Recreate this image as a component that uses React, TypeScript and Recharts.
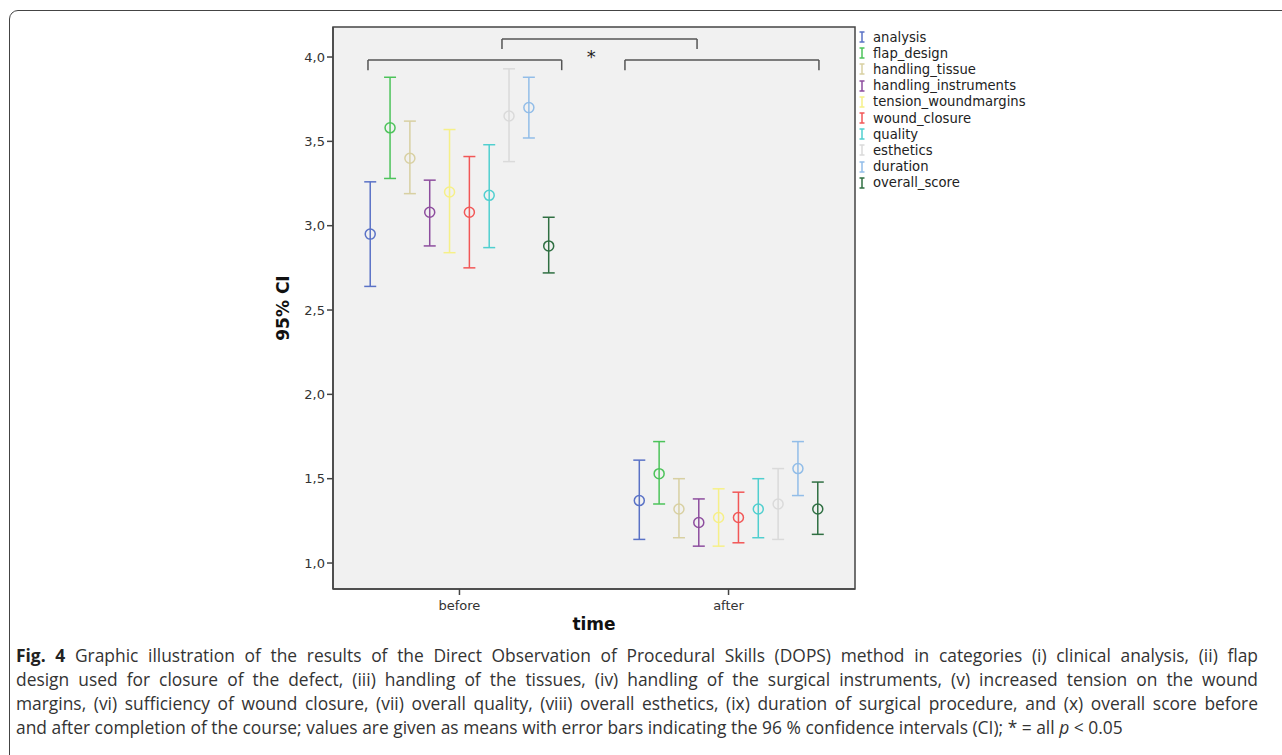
import React from "react";
import {
  ComposedChart,
  Scatter,
  ErrorBar,
  XAxis,
  YAxis,
  ReferenceArea,
  ReferenceLine,
  ReferenceDot
} from "recharts";

const groups = ["before", "after"];

const categories = [
  "analysis",
  "flap_design",
  "handling_tissue",
  "handling_instruments",
  "tension_woundmargins",
  "wound_closure",
  "quality",
  "esthetics",
  "duration",
  "overall_score"
];

const colors = [
  "#5a72c6",
  "#4cc35a",
  "#d8d0a2",
  "#8d4d9e",
  "#f6f088",
  "#f25757",
  "#50cfcf",
  "#dadada",
  "#92bde8",
  "#2f6f42"
];

const meanBefore = [2.95, 3.58, 3.4, 3.08, 3.2, 3.08, 3.18, 3.65, 3.7, 2.88];
const lowBefore = [2.64, 3.28, 3.19, 2.88, 2.84, 2.75, 2.87, 3.38, 3.52, 2.72];
const highBefore = [3.26, 3.88, 3.62, 3.27, 3.57, 3.41, 3.48, 3.93, 3.88, 3.05];

const meanAfter = [1.37, 1.53, 1.32, 1.24, 1.27, 1.27, 1.32, 1.35, 1.56, 1.32];
const lowAfter = [1.14, 1.35, 1.15, 1.1, 1.1, 1.12, 1.15, 1.14, 1.4, 1.17];
const highAfter = [1.61, 1.72, 1.5, 1.38, 1.44, 1.42, 1.5, 1.56, 1.72, 1.48];

const yTicks = [1, 1.5, 2, 2.5, 3, 3.5, 4];

// significance brackets (data units)
const brackets = [
  { from: -0.34, to: 0.38, y: 3.982, drop: 0.06 },
  { from: 0.615, to: 1.336, y: 3.982, drop: 0.06 },
  { from: 0.158, to: 0.883, y: 4.107, drop: 0.06 }
];

const captionLines = [
  "Graphic illustration of the results of the Direct Observation of Procedural Skills (DOPS) method in categories (i) clinical analysis, (ii) flap",
  "design used for closure of the defect, (iii) handling of the tissues, (iv) handling of the surgical instruments, (v) increased tension on the wound",
  "margins, (vi) sufficiency of wound closure, (vii) overall quality, (viii) overall esthetics, (ix) duration of surgical procedure, and (x) overall score before"
];

const X_MIN = -0.47;
const X_MAX = 1.47;
const STEP = 0.0737;

const font = "'DejaVu Sans', sans-serif";

function seriesData(i: number) {
  const means = [meanBefore[i], meanAfter[i]];
  const lows = [lowBefore[i], lowAfter[i]];
  const highs = [highBefore[i], highAfter[i]];
  return groups.map((g, gi) => ({
    x: gi + (i - 4.5) * STEP,
    y: means[gi],
    err: [means[gi] - lows[gi], highs[gi] - means[gi]]
  }));
}

function ErrIcon({ color }: { color: string }) {
  return (
    <svg width={8} height={12} style={{ marginRight: 7, flex: "none" }}>
      <line x1={4} y1={1} x2={4} y2={11} stroke={color} strokeWidth={1.5} />
      <line x1={1.5} y1={1} x2={6.5} y2={1} stroke={color} strokeWidth={1.5} />
      <line x1={1.5} y1={11} x2={6.5} y2={11} stroke={color} strokeWidth={1.5} />
    </svg>
  );
}

const justified: React.CSSProperties = {
  width: 1242,
  textAlign: "justify",
  textAlignLast: "justify",
  whiteSpace: "normal"
};

export default function App() {
  return (
    <div
      style={{
        position: "absolute",
        left: 0,
        top: 0,
        width: 1282,
        height: 755,
        overflow: "hidden",
        background: "#fff"
      }}
    >
      <div
        style={{
          position: "absolute",
          left: 9,
          top: 10,
          width: 1320,
          height: 800,
          border: "1.5px solid #444",
          borderRadius: 9
        }}
      />
      <div style={{ position: "absolute", left: 0, top: 0 }}>
        <ComposedChart
          width={1282}
          height={640}
          margin={{ top: 27, right: 427, bottom: 1, left: 273 }}
        >
          <XAxis
            type="number"
            dataKey="x"
            domain={[X_MIN, X_MAX]}
            ticks={[0, 1]}
            tickFormatter={(v) => groups[Number(v)]}
            allowDataOverflow
            axisLine={{ stroke: "#444", strokeWidth: 1.5 }}
            tickLine={{ stroke: "#444", strokeWidth: 1.5 }}
            tickSize={6}
            tickMargin={6}
            height={50}
            tick={{ fontSize: 13, fill: "#333", fontFamily: font }}
            label={{
              value: "time",
              position: "center",
              dy: 10,
              fontSize: 17,
              fontWeight: "bold",
              fill: "#111",
              fontFamily: font
            }}
          />
          <YAxis
            type="number"
            dataKey="y"
            domain={[0.846, 4.178]}
            ticks={yTicks}
            tickFormatter={(v) => Number(v).toFixed(1).replace(".", ",")}
            allowDataOverflow
            axisLine={{ stroke: "#444", strokeWidth: 1.5 }}
            tickLine={{ stroke: "#444", strokeWidth: 1.5 }}
            tickSize={6}
            tickMargin={2}
            width={60}
            tick={{ fontSize: 13, fill: "#333", fontFamily: font }}
            label={{
              value: "95% CI",
              angle: -90,
              position: "center",
              dx: -20,
              fontSize: 17,
              fontWeight: "bold",
              fill: "#111",
              fontFamily: font
            }}
          />
          <ReferenceArea
            x1={X_MIN}
            x2={X_MAX}
            y1={0.846}
            y2={4.178}
            fill="#f1f1f1"
            fillOpacity={1}
            stroke="#444"
            strokeWidth={1.5}
            ifOverflow="visible"
          />
          {brackets.map((b, i) => (
            <ReferenceLine
              key={`h${i}`}
              segment={[
                { x: b.from, y: b.y },
                { x: b.to, y: b.y }
              ]}
              stroke="#555"
              strokeWidth={1.5}
              ifOverflow="visible"
            />
          ))}
          {brackets.map((b, i) => (
            <ReferenceLine
              key={`l${i}`}
              segment={[
                { x: b.from, y: b.y },
                { x: b.from, y: b.y - b.drop }
              ]}
              stroke="#555"
              strokeWidth={1.5}
              ifOverflow="visible"
            />
          ))}
          {brackets.map((b, i) => (
            <ReferenceLine
              key={`r${i}`}
              segment={[
                { x: b.to, y: b.y },
                { x: b.to, y: b.y - b.drop }
              ]}
              stroke="#555"
              strokeWidth={1.5}
              ifOverflow="visible"
            />
          ))}
          <ReferenceDot
            x={0.49}
            y={4.0}
            r={1}
            fill="none"
            stroke="none"
            ifOverflow="visible"
            label={{ value: "*", position: "center", fontSize: 18, fill: "#222", fontFamily: font }}
          />
          {categories.map((c, i) => (
            <Scatter
              key={c}
              name={c}
              data={seriesData(i)}
              isAnimationActive={false}
              shape={(props: any) => (
                <circle
                  cx={props.cx}
                  cy={props.cy}
                  r={5}
                  fill="none"
                  stroke={colors[i]}
                  strokeWidth={1.5}
                />
              )}
            >
              <ErrorBar
                dataKey="err"
                direction="y"
                width={6}
                stroke={colors[i]}
                strokeWidth={1.5}
                isAnimationActive={false}
              />
            </Scatter>
          ))}
        </ComposedChart>
      </div>
      <div
        style={{
          position: "absolute",
          left: 858,
          top: 29,
          fontFamily: font,
          fontSize: 13.2,
          color: "#222"
        }}
      >
        {categories.map((c, i) => (
          <div key={c} style={{ display: "flex", alignItems: "center", height: 16.2 }}>
            <ErrIcon color={colors[i]} />
            <span>{c}</span>
          </div>
        ))}
      </div>
      <div
        style={{
          position: "absolute",
          left: 16,
          top: 643,
          fontFamily: "'Open Sans', sans-serif",
          fontSize: 17.4,
          lineHeight: "24px",
          color: "#333"
        }}
      >
        <div style={justified}>
          <b style={{ color: "#222" }}>Fig. 4</b> {captionLines[0]}
        </div>
        <div style={justified}>{captionLines[1]}</div>
        <div style={justified}>{captionLines[2]}</div>
        <div style={{ whiteSpace: "nowrap" }}>
          and after completion of the course; values are given as means with error bars indicating the 96 % confidence intervals (CI); * = all <i>p</i> &lt; 0.05
        </div>
      </div>
    </div>
  );
}
